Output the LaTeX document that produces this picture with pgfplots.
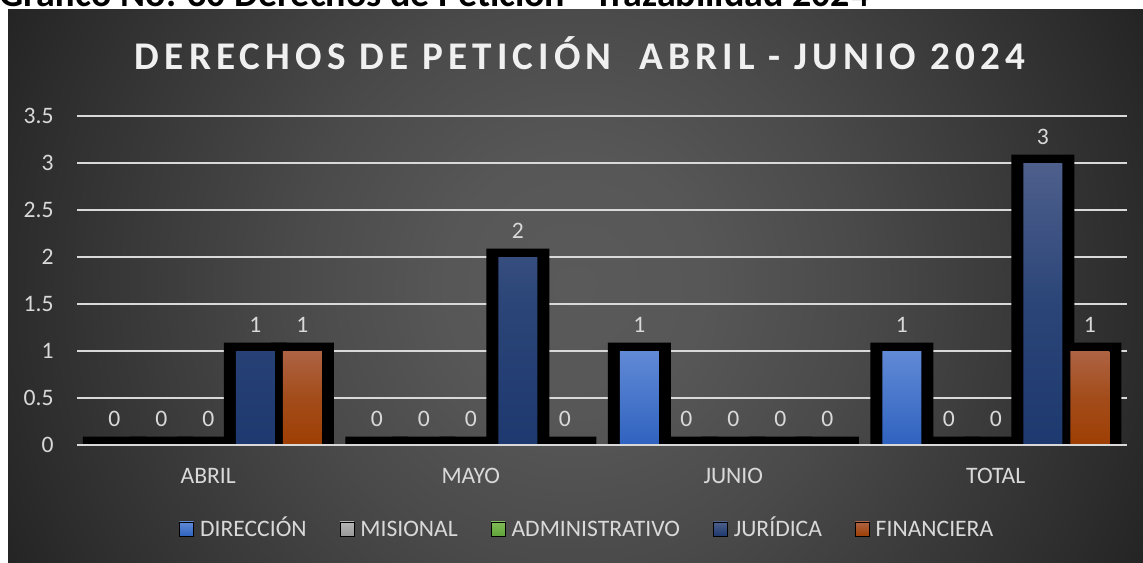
\documentclass[border=0pt]{standalone}
\usepackage{pgfplots}
\pgfplotsset{compat=1.18}
\usepackage{pgfplotstable}
\usepackage{fontspec}
\setmainfont{Carlito}
\newfontfamily\titlefont[LetterSpace=13]{Carlito}
\newfontfamily\capfont{Carlito}

\definecolor{bg0}{HTML}{5A5A5A}
\definecolor{bg1}{HTML}{575757}
\definecolor{bg2}{HTML}{4A4A4A}
\definecolor{bg3}{HTML}{2C2C2C}
\definecolor{bg4}{HTML}{232323}
\definecolor{txt}{HTML}{D9D9D9}
\definecolor{ttl}{HTML}{F0F0F0}
\definecolor{gridc}{HTML}{D9D9D9}
\definecolor{dirT}{HTML}{618AD6}
\definecolor{dirB}{HTML}{2F62BF}
\definecolor{misT}{HTML}{B5B5B5}
\definecolor{misB}{HTML}{989898}
\definecolor{admT}{HTML}{80BC58}
\definecolor{admB}{HTML}{62A33A}
\definecolor{jurT}{HTML}{4E5F8C}
\definecolor{jurM}{HTML}{2B4578}
\definecolor{jurB}{HTML}{1E396F}
\definecolor{finT}{HTML}{AE6343}
\definecolor{finM}{HTML}{A34C1A}
\definecolor{finB}{HTML}{9E3F04}

\pgfdeclareradialshading{bgshade}{\pgfpointorigin}{color(0bp)=(bg0); color(5bp)=(bg1); color(11bp)=(bg2); color(22bp)=(bg3); color(25bp)=(bg4); color(50bp)=(bg4)}

\pgfplotstableread{
x dir mis adm jur fin
0 0 0 0 1 1
1 0 0 0 2 0
2 1 0 0 0 0
3 1 0 0 3 1
}\datatable

\begin{document}
\begin{tikzpicture}[x=1pt,y=1pt]
\clip (0,0) rectangle (571.5,281);
\fill[white] (0,0) rectangle (571.5,281);
\begin{scope}
\clip (4,0) rectangle (571.5,276);
\shade[shading=bgshade] (287.5,138) circle (320);
\end{scope}
\node[anchor=base west, inner sep=0pt, text=black] at (-0.5,277.5)
  {\resizebox{435pt}{!}{\capfont\bfseries Gráfico No. 30 Derechos de Petición - Trazabilidad 2024}};
\node[anchor=base, inner sep=0pt, text=ttl, font=\titlefont\bfseries\fontsize{19.6}{22}\selectfont] at (290,246)
  {DERECHOS DE PETICIÓN\ \ ABRIL - JUNIO 2024};

\begin{axis}[
  at={(38.5pt,58.5pt)}, anchor=south west,
  scale only axis, width=525pt, height=164.5pt,
  xmin=-0.5, xmax=3.5, ymin=0, ymax=3.5,
  xtick={0,1,2,3}, xticklabels={ABRIL,MAYO,JUNIO,TOTAL},
  ytick={0,0.5,...,3.5},
  ymajorgrids, grid style={draw=gridc, line width=1pt},
  axis line style={draw=none}, major tick length=0pt,
  tick label style={font=\fontsize{11.8}{14}\selectfont, text=txt},
  yticklabel style={anchor=east, inner sep=0pt, xshift=-11.5pt},
  xticklabel style={anchor=north, inner sep=0pt, yshift=-11.5pt},
  /pgf/number format/assume math mode=true,
  clip=false,
  legend columns=5,
  legend style={at={(0.485,-0.255)}, anchor=center, draw=none, fill=none,
    font=\fontsize{11.8}{14}\selectfont, text=txt,
    nodes={inner sep=0pt, text height=7.6pt, text depth=0pt},
    /tikz/every odd column/.append style={column sep=3pt},
    /tikz/every even column/.append style={column sep=16.5pt}},
  nlab/.style={nodes near coords, point meta=explicit,
    every node near coord/.append style={anchor=south, inner sep=0pt, yshift=4.75pt, xshift=#1,
    font=\fontsize{11.8}{14}\selectfont, text=txt}},
  blk/.style={ybar, forget plot, bar width=31.5pt, bar shift=#1, fill=black, draw=none, nlab=#1},
  fil/.style={ybar, forget plot, bar width=19.5pt, bar shift=#1, draw=none,
    y filter/.expression={y<0.01 ? nan : y}, unbounded coords=discard},
]
% black outline layer (value + outline thickness), labelled with the value
\addplot[blk=-47pt]   table[x=x, y expr=\thisrow{dir}+0.09, meta=dir] {\datatable};
\addplot[blk=-23.5pt] table[x=x, y expr=\thisrow{mis}+0.09, meta=mis] {\datatable};
\addplot[blk=0pt]     table[x=x, y expr=\thisrow{adm}+0.09, meta=adm] {\datatable};
\addplot[blk=23.5pt]  table[x=x, y expr=\thisrow{jur}+0.09, meta=jur] {\datatable};
\addplot[blk=47pt]    table[x=x, y expr=\thisrow{fin}+0.09, meta=fin] {\datatable};
% coloured fill layer
\addplot[fil=-47pt, top color=dirT, bottom color=dirB] table[x=x, y=dir] {\datatable};
\addplot[fil=23.5pt, top color=jurT, bottom color=jurB, middle color=jurM] table[x=x, y=jur] {\datatable};
\addplot[fil=47pt, top color=finT, bottom color=finB, middle color=finM] table[x=x, y=fin] {\datatable};
% zero gridline on top
\addplot[forget plot, draw=gridc, line width=1pt] coordinates {(-0.5,0) (3.5,0)};
% legend
\addlegendimage{legend image code/.code={\shade[top color=dirT,bottom color=dirB] (0pt,-3.5pt) rectangle (7pt,3.5pt);}}
\addlegendentry{DIRECCIÓN}
\addlegendimage{legend image code/.code={\shade[top color=misT,bottom color=misB] (0pt,-3.5pt) rectangle (7pt,3.5pt);}}
\addlegendentry{MISIONAL}
\addlegendimage{legend image code/.code={\shade[top color=admT,bottom color=admB] (0pt,-3.5pt) rectangle (7pt,3.5pt);}}
\addlegendentry{ADMINISTRATIVO}
\addlegendimage{legend image code/.code={\shade[top color=jurT,bottom color=jurB] (0pt,-3.5pt) rectangle (7pt,3.5pt);}}
\addlegendentry{JURÍDICA}
\addlegendimage{legend image code/.code={\shade[top color=finT,bottom color=finB] (0pt,-3.5pt) rectangle (7pt,3.5pt);}}
\addlegendentry{FINANCIERA}
\end{axis}
\end{tikzpicture}
\end{document}
